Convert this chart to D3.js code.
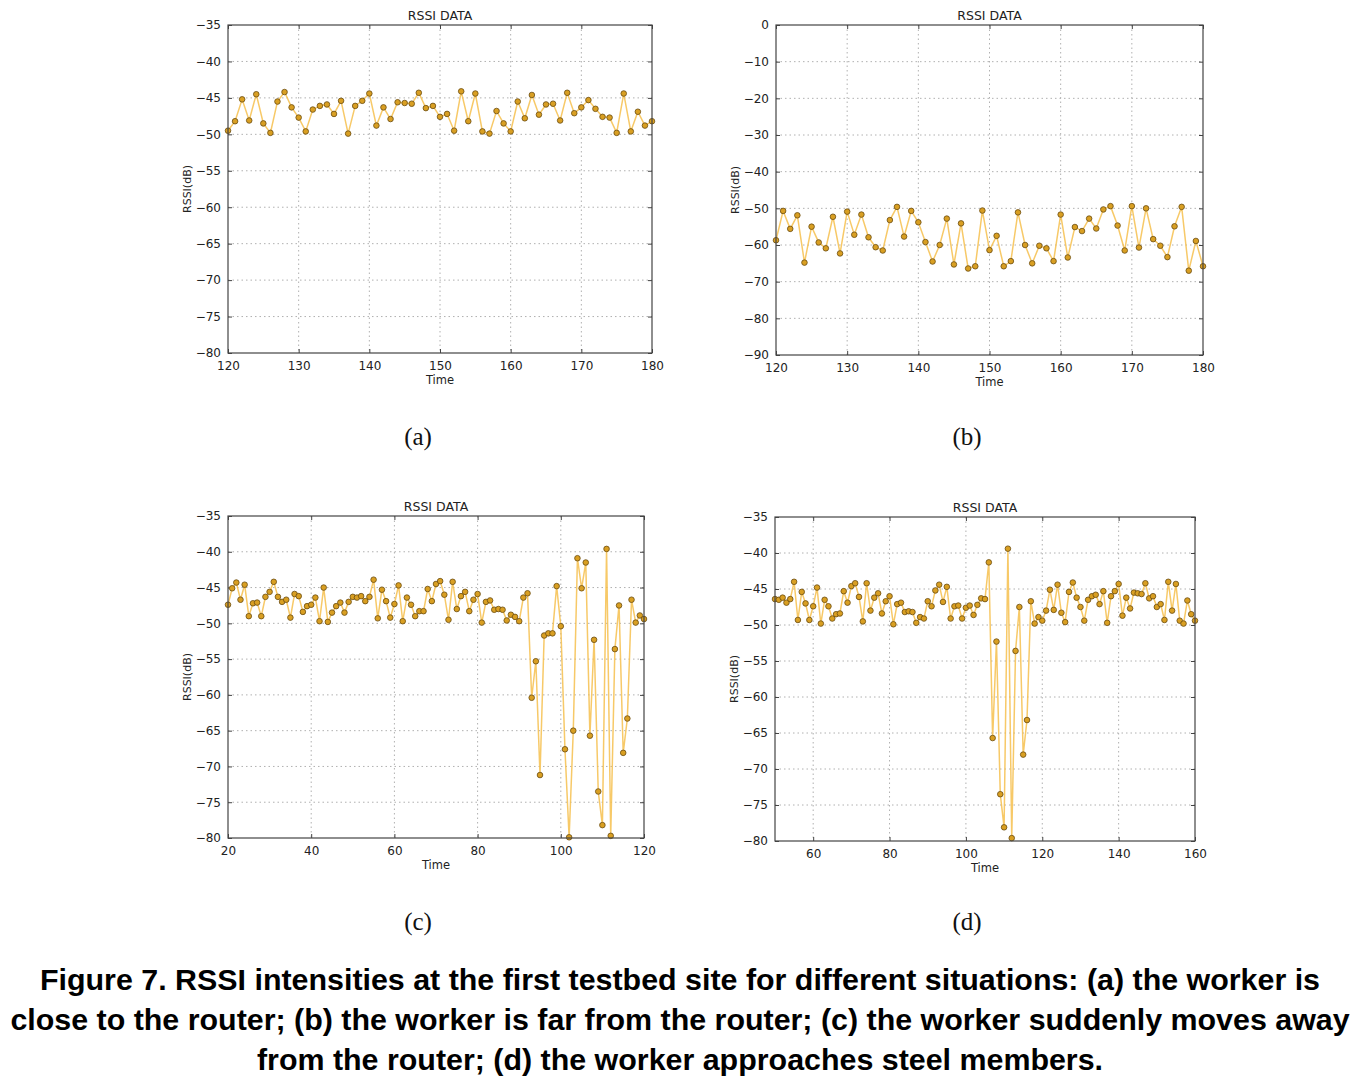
<!DOCTYPE html>
<html>
<head>
<meta charset="utf-8">
<script src="https://cdn.jsdelivr.net/npm/d3@7"></script>
<style>
  html, body { margin: 0; padding: 0; background: #fff; }
  svg { display: block; }
</style>
</head>
<body>
<svg id="chart" width="1366" height="1080"></svg>
<script>
// ---- data ----
const startA = 120;
const rssiA = [
  -49.5,-48.2,-45.2,-48.1,-44.5,-48.5,-49.8,-45.5,-44.2,-46.3,
  -47.7,-49.6,-46.6,-46.1,-45.9,-47.2,-45.4,-49.9,-46.1,-45.4,
  -44.4,-48.8,-46.3,-47.9,-45.6,-45.7,-45.8,-44.3,-46.4,-46.1,
  -47.6,-47.2,-49.5,-44.1,-48.2,-44.4,-49.6,-49.9,-46.8,-48.5,
  -49.6,-45.5,-47.8,-44.6,-47.3,-45.9,-45.8,-48.1,-44.3,-47.1,
  -46.3,-45.3,-46.5,-47.6,-47.7,-49.8,-44.4,-49.6,-46.9,-48.8,
  -48.2
];
const startB = 120;
const rssiB = [
  -58.7,-50.7,-55.6,-51.9,-64.8,-55.0,-59.3,-60.9,-52.3,-62.3,
  -50.9,-57.2,-51.7,-57.9,-60.6,-61.5,-53.2,-49.6,-57.7,-50.7,
  -53.8,-59.2,-64.5,-60.0,-52.8,-65.3,-54.1,-66.4,-65.8,-50.6,
  -61.4,-57.5,-65.8,-64.4,-51.1,-60.0,-65.0,-60.2,-60.9,-64.4,
  -51.7,-63.4,-55.1,-56.2,-52.8,-55.5,-50.3,-49.4,-54.7,-61.5,
  -49.4,-60.7,-50.0,-58.4,-60.2,-63.3,-54.9,-49.6,-67.0,-58.9,
  -65.8
];
const startC = 20;
const rssiC = [
  -47.4,-45.1,-44.3,-46.7,-44.6,-49.0,-47.2,-47.1,-49.0,-46.3,
  -45.6,-44.2,-46.3,-47.0,-46.7,-49.2,-45.9,-46.2,-48.4,-47.6,
  -47.4,-46.4,-49.7,-45.0,-49.8,-48.5,-47.6,-47.1,-48.5,-47.0,
  -46.3,-46.4,-46.2,-46.9,-46.3,-43.9,-49.3,-45.3,-46.9,-49.2,
  -47.3,-44.7,-49.7,-46.4,-47.4,-49.0,-48.3,-48.3,-45.2,-46.9,
  -44.5,-44.1,-46.0,-49.5,-44.2,-48.0,-46.2,-45.6,-48.3,-46.7,
  -45.9,-49.9,-47.0,-46.8,-48.1,-48.0,-48.1,-49.6,-48.8,-49.1,
  -49.7,-46.4,-45.8,-60.4,-55.3,-71.2,-51.7,-51.4,-51.4,-44.8,
  -50.4,-67.6,-79.9,-65.0,-40.9,-45.1,-41.5,-65.7,-52.3,-73.5,
  -78.2,-39.6,-79.7,-53.6,-47.5,-68.1,-63.3,-46.7,-49.9,-48.9,
  -49.4
];
const startD = 50;
const rssiD = [
  -46.4,-46.5,-46.2,-46.9,-46.4,-44.0,-49.3,-45.4,-47.0,-49.3,
  -47.4,-44.8,-49.8,-46.5,-47.4,-49.1,-48.5,-48.4,-45.3,-46.9,
  -44.6,-44.2,-46.1,-49.5,-44.2,-48.0,-46.2,-45.6,-48.4,-46.7,
  -46.0,-49.9,-47.1,-46.9,-48.2,-48.1,-48.2,-49.7,-48.9,-49.1,
  -46.7,-47.4,-45.2,-44.4,-46.8,-44.7,-49.1,-47.4,-47.3,-49.1,
  -47.6,-47.3,-48.6,-47.2,-46.3,-46.4,-41.3,-65.7,-52.3,-73.5,
  -78.1,-39.4,-79.6,-53.6,-47.5,-68.0,-63.2,-46.7,-49.8,-48.9,
  -49.4,-48.0,-45.1,-47.9,-44.4,-48.3,-49.6,-45.4,-44.1,-46.2,
  -47.5,-49.4,-46.5,-46.0,-45.8,-47.1,-45.3,-49.7,-46.0,-45.3,
  -44.3,-48.7,-46.2,-47.7,-45.5,-45.6,-45.7,-44.2,-46.3,-46.0,
  -47.5,-47.1,-49.3,-44.0,-48.0,-44.3,-49.4,-49.8,-46.6,-48.5,
  -49.4
];
const xTicksA = [120,130,140,150,160,170,180];
const yTicksA = [-35,-40,-45,-50,-55,-60,-65,-70,-75,-80];
const xTicksB = [120,130,140,150,160,170,180];
const yTicksB = [0,-10,-20,-30,-40,-50,-60,-70,-80,-90];
const xTicksC = [20,40,60,80,100,120];
const yTicksC = [-35,-40,-45,-50,-55,-60,-65,-70,-75,-80];
const xTicksD = [60,80,100,120,140,160];
const yTicksD = [-35,-40,-45,-50,-55,-60,-65,-70,-75,-80];
const panelTitle = "RSSI DATA";
const xLabel = "Time";
const yLabel = "RSSI(dB)";
const subLabels = ["(a)", "(b)", "(c)", "(d)"];
const captionLines = [
  "Figure 7. RSSI intensities at the first testbed site for different situations: (a) the worker is",
  "close to the router; (b) the worker is far from the router; (c) the worker suddenly moves away",
  "from the router; (d) the worker approaches steel members."
];

// ---- layout ----
const panels = [
  {start: startA, values: rssiA, xDom: [120,180], yDom: [-80,-35], xTicks: xTicksA, yTicks: yTicksA,
   box: {l: 228, r: 652, t: 25, b: 353}, ylabX: 191, sub: {x: 418, y: 445}},
  {start: startB, values: rssiB, xDom: [120,180], yDom: [-90,0], xTicks: xTicksB, yTicks: yTicksB,
   box: {l: 776, r: 1203, t: 25, b: 355}, ylabX: 739, sub: {x: 967, y: 445}},
  {start: startC, values: rssiC, xDom: [20,120], yDom: [-80,-35], xTicks: xTicksC, yTicks: yTicksC,
   box: {l: 228, r: 644, t: 516, b: 838}, ylabX: 191, sub: {x: 418, y: 930}},
  {start: startD, values: rssiD, xDom: [50,160], yDom: [-80,-35], xTicks: xTicksD, yTicks: yTicksD,
   box: {l: 775, r: 1195, t: 517, b: 841}, ylabX: 738, sub: {x: 967, y: 930}}
];

const svg = d3.select("#chart");
const fmt = v => String(v).replace("-", "\u2212");

panels.forEach((p, pi) => {
  const B = p.box;
  const x = d3.scaleLinear().domain(p.xDom).range([B.l, B.r]);
  const y = d3.scaleLinear().domain(p.yDom).range([B.b, B.t]);
  const g = svg.append("g");

  // grid
  g.append("g").selectAll("line").data(p.xTicks.filter(t => t > p.xDom[0] && t < p.xDom[1])).join("line")
    .attr("x1", d => x(d)).attr("x2", d => x(d)).attr("y1", B.t).attr("y2", B.b)
    .attr("stroke", "#b0b0b0").attr("stroke-width", 1).attr("stroke-dasharray", "1.5,3");
  g.append("g").selectAll("line").data(p.yTicks.filter(t => t > p.yDom[0] && t < p.yDom[1])).join("line")
    .attr("x1", B.l).attr("x2", B.r).attr("y1", d => y(d)).attr("y2", d => y(d))
    .attr("stroke", "#b0b0b0").attr("stroke-width", 1).attr("stroke-dasharray", "1.5,3");

  // axes
  const xAx = d3.axisBottom(x).tickValues(p.xTicks).tickSize(-4).tickPadding(8).tickFormat(fmt);
  const yAx = d3.axisLeft(y).tickValues(p.yTicks).tickSize(-4).tickPadding(7).tickFormat(fmt);
  const xg = g.append("g").attr("transform", `translate(0,${B.b})`).call(xAx);
  const yg = g.append("g").attr("transform", `translate(${B.l},0)`).call(yAx);
  const xTop = d3.axisTop(x).tickValues(p.xTicks).tickSize(-4).tickFormat("");
  const yRight = d3.axisRight(y).tickValues(p.yTicks).tickSize(-4).tickFormat("");
  const xg2 = g.append("g").attr("transform", `translate(0,${B.t})`).call(xTop);
  const yg2 = g.append("g").attr("transform", `translate(${B.r},0)`).call(yRight);
  [xg, yg, xg2, yg2].forEach(a => {
    a.select(".domain").remove();
    a.selectAll("line").attr("stroke", "#444");
    a.selectAll("text").attr("font-family", "DejaVu Sans").attr("font-size", 12).attr("fill", "#222");
  });

  // line + markers
  const pts = p.values.map((v, i) => ({t: p.start + i, v}));
  g.append("path").datum(pts)
    .attr("d", d3.line().x(d => x(d.t)).y(d => y(d.v)))
    .attr("fill", "none").attr("stroke", "#f6bf4e").attr("stroke-width", 1.5).attr("stroke-opacity", 0.85);
  g.append("g").selectAll("circle").data(pts).join("circle")
    .attr("cx", d => x(d.t)).attr("cy", d => y(d.v)).attr("r", 2.8)
    .attr("fill", "#d99f22").attr("stroke", "#6a4b10").attr("stroke-width", 0.8);

  // frame
  g.append("rect").attr("x", B.l).attr("y", B.t).attr("width", B.r - B.l).attr("height", B.b - B.t)
    .attr("fill", "none").attr("stroke", "#444").attr("stroke-width", 1.2);

  const cx = (B.l + B.r) / 2;
  g.append("text").attr("x", cx).attr("y", B.t - 5).attr("text-anchor", "middle")
    .attr("font-family", "DejaVu Sans").attr("font-size", 12.5).attr("fill", "#222").text(panelTitle);
  g.append("text").attr("x", cx).attr("y", B.b + 31).attr("text-anchor", "middle")
    .attr("font-family", "DejaVu Sans").attr("font-size", 11.5).attr("fill", "#222").text(xLabel);
  g.append("text").attr("transform", `translate(${p.ylabX},${(B.t + B.b) / 2}) rotate(-90)`)
    .attr("text-anchor", "middle")
    .attr("font-family", "DejaVu Sans").attr("font-size", 11).attr("fill", "#222").text(yLabel);

  svg.append("text").attr("x", p.sub.x).attr("y", p.sub.y).attr("text-anchor", "middle")
    .attr("font-family", "Liberation Serif").attr("font-size", 25).attr("fill", "#111").text(subLabels[pi]);
});

svg.append("g").selectAll("text").data(captionLines).join("text")
  .attr("x", 680).attr("y", (d, i) => 990 + i * 40)
  .attr("text-anchor", "middle")
  .attr("font-family", "Liberation Sans").attr("font-weight", "bold").attr("font-size", 30.4)
  .attr("fill", "#000").text(d => d);
</script>
</body>
</html>
